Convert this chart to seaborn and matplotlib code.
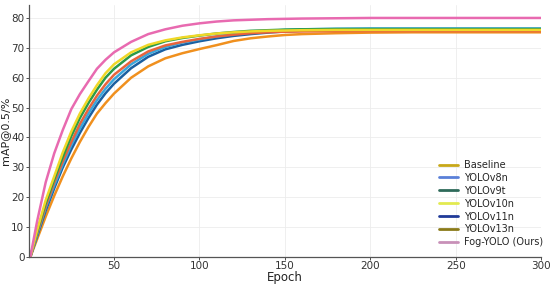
import numpy as np
import pandas as pd
import matplotlib
matplotlib.use("Agg")
import matplotlib.pyplot as plt
from matplotlib.lines import Line2D
import seaborn as sns

epochs = [1, 5, 10, 15, 20, 25, 30, 35, 40, 45, 50, 60, 70, 80, 90, 100, 110, 120,
          130, 140, 150, 160, 180, 200, 225, 250, 275, 300]

baseline = [0, 6, 13.5, 20.5, 27, 33, 38.5, 43.5, 48, 51.5, 54.7, 60, 63.8, 66.5, 68.2, 69.6,
            70.9, 72.3, 73.2, 73.8, 74.3, 74.6, 74.9, 75.1, 75.2, 75.2, 75.2, 75.2]
yolov8n = [0, 7.5, 16.5, 24, 31, 37.5, 43, 48, 52.5, 56.3, 59.5, 64.5, 68, 70.3, 71.8, 72.8,
           73.8, 74.6, 75.2, 75.7, 76.0, 76.2, 76.4, 76.5, 76.5, 76.5, 76.5, 76.5]
yolov9t = [0, 8.5, 18, 26, 33.5, 40.5, 46.5, 51.5, 56, 60, 63, 67.5, 70.3, 72.2, 73.3, 74.1,
           74.8, 75.3, 75.7, 75.9, 76.1, 76.2, 76.3, 76.3, 76.3, 76.3, 76.3, 76.3]
yolov10n = [0, 9, 19, 27, 35, 42, 48, 53, 57.5, 61.5, 64.5, 68.5, 71, 72.5, 73.5, 74.2,
            74.8, 75.2, 75.5, 75.7, 75.8, 75.9, 76.0, 76.0, 76.0, 76.0, 76.0, 76.0]
yolov11n = [0, 7, 15.5, 23, 30, 36, 41.5, 46.5, 51, 54.8, 58, 63.2, 67, 69.5, 71, 72.2,
            73.2, 74, 74.6, 75.1, 75.5, 75.7, 75.9, 76.0, 76.0, 76.0, 76.0, 76.0]
yolov13n = [0, 8, 17, 25, 32, 38.5, 44.5, 49.5, 54, 57.8, 61, 65.5, 68.8, 70.8, 72, 73,
            73.8, 74.4, 74.9, 75.2, 75.4, 75.5, 75.6, 75.6, 75.6, 75.6, 75.6, 75.6]
fog_yolo = [0, 12, 25, 34.7, 42.5, 49.5, 54.5, 58.8, 63, 66, 68.5, 72, 74.6, 76.2, 77.4, 78.2,
            78.8, 79.2, 79.4, 79.6, 79.7, 79.8, 79.9, 80.0, 80.0, 80.0, 80.0, 80.0]

labels = ["Baseline", "YOLOv8n", "YOLOv9t", "YOLOv10n", "YOLOv11n", "YOLOv13n", "Fog-YOLO (Ours)"]
series = [baseline, yolov8n, yolov9t, yolov10n, yolov11n, yolov13n, fog_yolo]

line_colors = {
    "Baseline": "#f0901e",
    "YOLOv8n": "#3aa6dc",
    "YOLOv9t": "#2a9a4a",
    "YOLOv10n": "#f0d828",
    "YOLOv11n": "#1b5fa0",
    "YOLOv13n": "#e8643c",
    "Fog-YOLO (Ours)": "#e86ab0",
}
legend_colors = ["#c8a818", "#5a80d8", "#2e6a5a", "#e2ea50", "#203a98", "#8a7a18", "#c890b8"]
draw_order = ["Baseline", "YOLOv11n", "YOLOv8n", "YOLOv13n", "YOLOv9t", "YOLOv10n", "Fog-YOLO (Ours)"]

rows = []
for lab, vals in zip(labels, series):
    for e, v in zip(epochs, vals):
        rows.append({"Epoch": e, "mAP": v, "Model": lab})
df = pd.DataFrame(rows)

sns.set_theme(style="whitegrid")
plt.rcParams["font.family"] = ["DejaVu Sans"]

fig = plt.figure(figsize=(5.5, 2.84), dpi=100)
ax = fig.add_axes([0.052, 0.095, 0.932, 0.887])

for name in draw_order:
    sns.lineplot(data=df[df["Model"] == name], x="Epoch", y="mAP", color=line_colors[name],
                 linewidth=1.8, ax=ax, legend=False)

ax.set_xlim(0, 300)
ax.set_ylim(0, 84.3)
ax.set_xticks([50, 100, 150, 200, 250, 300])
ax.set_yticks(range(0, 81, 10))
ax.tick_params(axis="both", labelsize=7.5, colors="#333333", length=2.0, width=0.6,
               direction="out", pad=1.0, left=True, bottom=True)
ax.set_xlabel("Epoch", fontsize=8.5, labelpad=0, color="#222222")
ax.set_ylabel("mAP@0.5/%", fontsize=8, labelpad=1, color="#222222")
ax.grid(True, color="#ececec", linewidth=0.6)
ax.set_facecolor("white")
for s in ["top", "right"]:
    ax.spines[s].set_visible(False)
for s in ["left", "bottom"]:
    ax.spines[s].set_visible(True)
    ax.spines[s].set_color("#555555")
    ax.spines[s].set_linewidth(0.9)

handles = [Line2D([0], [0], color=c, linewidth=2) for c in legend_colors]
leg = ax.legend(handles, labels, loc="lower right", frameon=False, fontsize=7,
                handlelength=2.0, labelspacing=0.3, handletextpad=0.6,
                borderaxespad=0.2, bbox_to_anchor=(1.015, 0.015))

fig.savefig("out.png", dpi=100)
